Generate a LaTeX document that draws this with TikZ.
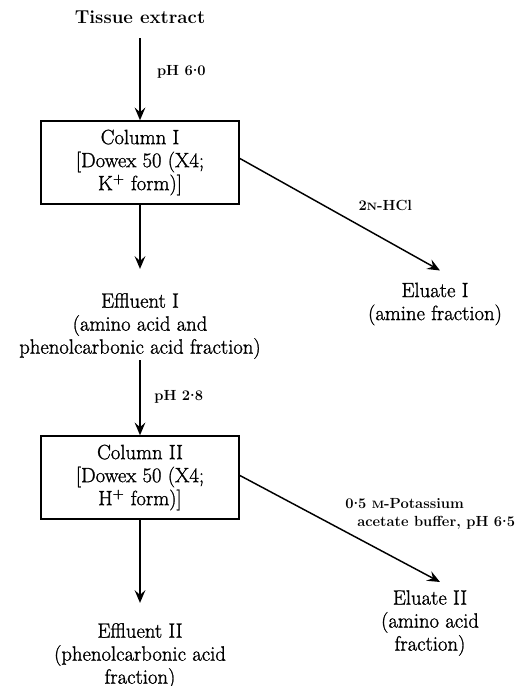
\documentclass[tikz,border=0pt]{standalone}
\usepackage{fontspec}
\newfontfamily\medfont{Latin Modern Roman}[BoldFont={Latin Modern Roman},BoldFeatures={FakeBold=1.2}]
\usetikzlibrary{arrows.meta}
\begin{document}
\begin{tikzpicture}[x=0.75pt,y=-0.75pt,
  main/.style={inner sep=0pt,align=center,font=\medfont\bfseries\fontsize{15.5}{17.25}\selectfont},
  lab/.style={inner sep=0pt,align=left,anchor=west,font=\rmfamily\bfseries\fontsize{11}{14}\selectfont},
  colbox/.style={draw,line width=1.4pt,minimum width=148.5pt,minimum height=62pt,inner sep=0pt,align=center,font=\medfont\bfseries\fontsize{15.5}{17.25}\selectfont},
  arr/.style={line width=1.5pt,-{Stealth[length=9.5pt,width=8pt,inset=3.5pt]}},
  darr/.style={line width=1.1pt,-{Stealth[length=9.5pt,width=8pt,inset=3.5pt]}}]
\useasboundingbox (0,0) rectangle (521,686);
\newcommand{\scN}{{\fontsize{8}{8}\selectfont N}}
\newcommand{\scM}{{\fontsize{8}{8}\selectfont M}}
\newcommand{\cdt}{\raisebox{0.28em}{.}}
% nodes
\node[main,font=\rmfamily\bfseries\fontsize{14}{16}\selectfont] (tissue) at (140,17) {Tissue extract};
\node[colbox] (box1) at (140,162.5) {Column I\\{}[Dowex 50 (X4;\\K\textsuperscript{+} form)]};
\node[main] (eff1) at (140,326) {Effluent I\\(amino acid and\\phenolcarbonic acid fraction)};
\node[main] (elu1) at (435,304) {Eluate I\\(amine fraction)};
\node[colbox] (box2) at (140,477.5) {Column II\\{}[Dowex 50 (X4;\\H\textsuperscript{+} form)]};
\node[main] (eff2) at (140,656) {Effluent II\\(phenolcarbonic acid\\fraction)};
\node[main] (elu2) at (430,623) {Eluate II\\(amino acid\\fraction)};
% connectors
\draw[arr,shorten <=11pt] (tissue.south) -- node[lab,pos=0.5,xshift=12pt] (ph1) {pH 6\cdt0} (box1.north);
\draw[arr,shorten >=18pt] (box1.south) -- (eff1.north);
\draw[darr] ([shift={(0,-4)}]box1.east) -- ([shift={(5,-12)}]elu1.north) node[lab,pos=0.6,shift={(-2,-20)}] (hcl) {2\scN-HCl};
\draw[arr,shorten <=1pt] (eff1.south) -- node[lab,pos=0.5,xshift=10pt] (ph2) {pH 2\cdt8} (box2.north);
\draw[arr,shorten >=15pt] (box2.south) -- (eff2.north);
\draw[darr] ([shift={(0,-2)}]box2.east) -- ([shift={(10,-8)}]elu2.north);
\node[lab] (buf) at (345,514) {0\cdt5 \scM-Potassium\\\hspace*{9pt}acetate buffer, pH 6\cdt5};
\end{tikzpicture}
\end{document}
